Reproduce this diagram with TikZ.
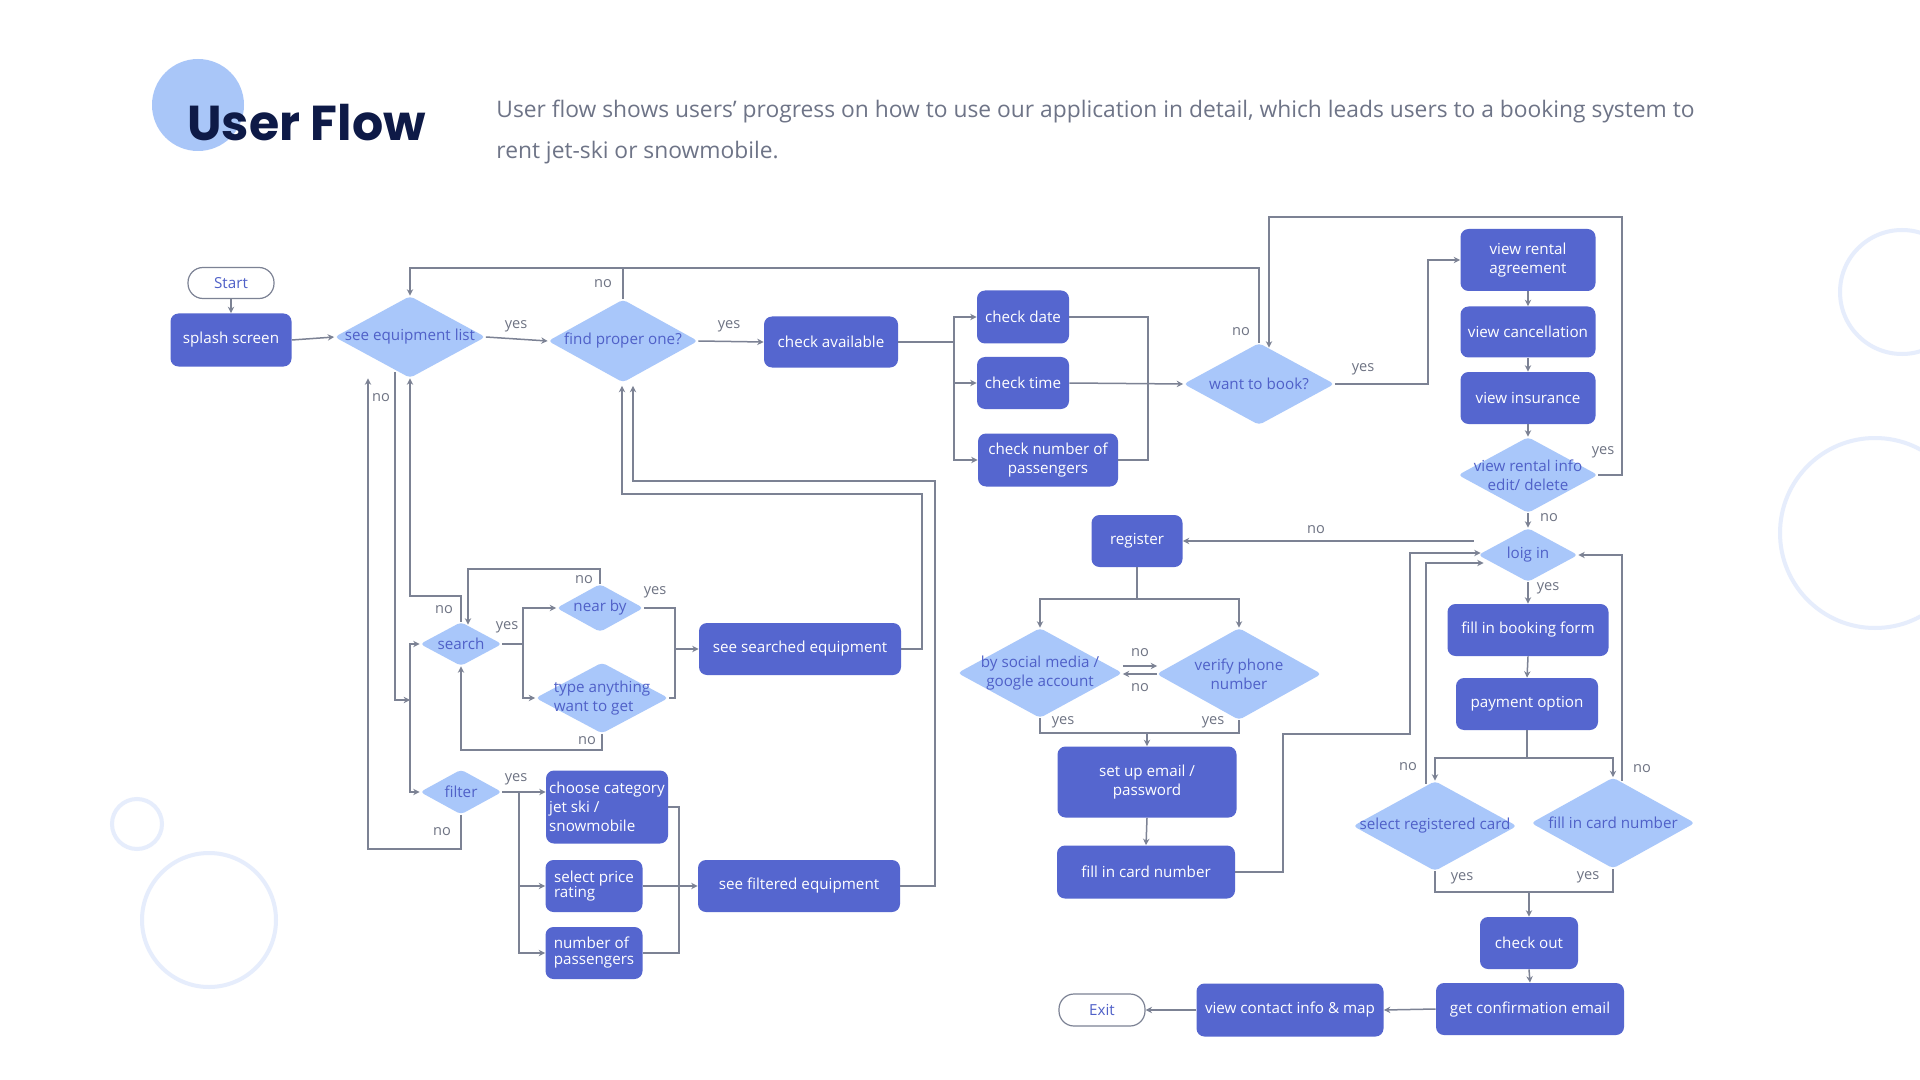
\documentclass[tikz,border=0pt]{standalone}
\usepackage{fontspec}
\setmainfont{Open Sans}
\newfontfamily\titlefont{Poppins}
\usetikzlibrary{shapes.geometric,arrows.meta,calc}
\definecolor{boxblue}{HTML}{5566CF}
\definecolor{dia}{HTML}{A9C7FA}
\definecolor{diatext}{HTML}{4F60C8}
\definecolor{linec}{HTML}{7C8294}
\definecolor{labc}{HTML}{6E7383}
\definecolor{navy}{HTML}{0E1A47}
\definecolor{subc}{HTML}{6E7487}
\definecolor{ring}{HTML}{E6EDFC}
\definecolor{titlecirc}{HTML}{A9C6F8}
\begin{document}
\begin{tikzpicture}[x=0.5pt,y=-0.5pt,
  box/.style 2 args={fill=boxblue, rounded corners=4pt, text=white,
    font=\fontsize{7.6}{9.4}\selectfont, align=center,
    minimum width=#1*0.5pt, minimum height=#2*0.5pt, inner sep=0pt},
  dmd/.style 2 args={diamond, fill=dia, rounded corners=2pt,
    minimum width=#1*0.5pt, minimum height=#2*0.5pt, inner sep=0pt},
  dlab/.style={text=diatext, font=\fontsize{7.6}{9.4}\selectfont, align=center, inner sep=0pt},
  term/.style 2 args={draw=linec, line width=0.6pt, fill=white, rounded corners=7.5pt,
    text=diatext, font=\fontsize{7.6}{9}\selectfont,
    minimum width=#1*0.5pt, minimum height=#2*0.5pt, inner sep=0pt},
  lab/.style={text=labc, font=\fontsize{7.3}{8}\selectfont, inner sep=0pt},
  ln/.style={draw=linec, line width=0.75pt},
  ar/.style={ln, -{Stealth[length=3.2pt,width=3.2pt]}},
  deco/.style={circle, draw=ring, line width=2pt, inner sep=0pt}
]
\useasboundingbox (0,0) rectangle (1920,1080);
\fill[white] (0,0) rectangle (1920,1080);

% decorative rings
\node[deco, minimum size=62pt] (r1) at (1902,292) {};
\node[deco, minimum size=95pt] (r2) at (1875,533) {};
\node[deco, minimum size=25pt] (r3) at (137,824) {};
\node[deco, minimum size=67pt] (r4) at (209,920) {};

% title
\node[circle, fill=titlecirc, minimum size=46pt, inner sep=0pt] (tc) at (198,105) {};
\node[anchor=base west, inner sep=0pt, text=navy, font=\titlefont\bfseries\fontsize{24.5}{27}\selectfont] (title) at (187,141) {User Flow};
\node[anchor=base west, inner sep=0pt, align=left, text=subc, font=\fontsize{11.4}{20.8}\selectfont] (sub) at (496,159)
 {User flow shows users’ progress on how to use our application in detail, which leads users to a booking system to\\rent jet-ski or snowmobile.};

% nodes
\node[term={86}{31}] (start) at (231,283) {Start};
\node[box={121}{53}] (splash) at (231,340) {splash screen};
\node[dmd={151}{82}, label={[dlab]center:see equipment list}] (seeq) at (410,337) {};
\node[dmd={150}{83}, label={[dlab]center:find proper one?}] (find) at (623,341) {};
\node[box={134}{51}] (avail) at (831,342) {check available};
\node[box={92}{53}] (date) at (1023,317) {check date};
\node[box={92}{52}] (time) at (1023,383) {check time};
\node[box={140}{53}] (npass) at (1048,460) {check number of\\passengers};
\node[dmd={151}{82}, label={[dlab]center:want to book?}] (book) at (1259,384) {};
\node[box={135}{62}] (agree) at (1528,260) {view rental\\agreement};
\node[box={135}{51}] (cancel) at (1528,332) {view cancellation};
\node[box={135}{52}] (insur) at (1528,398) {view insurance};
\node[dmd={140}{76}, label={[dlab]center:{view rental info\\edit/ delete}}] (rinfo) at (1528,475) {};
\node[dmd={100}{54}, label={[dlab]center:loig in}] (login) at (1528,555) {};
\node[box={161}{52}] (bform) at (1528,630) {fill in booking form};
\node[box={142}{52}] (payopt) at (1527,704) {payment option};
\node[dmd={164}{90}, label={[dlab]center:select registered card}] (selcard) at (1435,826) {};
\node[dmd={164}{91}, label={[dlab]center:fill in card number}] (fillcard) at (1613,823) {};
\node[box={98}{52}] (checkout) at (1529,943) {check out};
\node[box={188}{52}] (confirm) at (1530,1009) {get confirmation email};
\node[box={187}{53}] (contact) at (1290,1010) {view contact info \& map};
\node[term={86}{32}] (exit) at (1102,1010) {Exit};
\node[box={91}{52}] (register) at (1137,541) {register};
\node[dmd={165}{90}, label={[dlab]center:{by social media /\\google account}}] (social) at (1040,673) {};
\node[dmd={165}{92}, label={[dlab]center:{verify phone\\number}}] (verify) at (1239,674) {};
\node[box={179}{71}] (setup) at (1147,782) {set up email /\\password};
\node[box={178}{53}] (cardbox) at (1146,872) {fill in card number};
\node[dmd={82}{44}, label={[dlab]center:search}] (search) at (461,644) {};
\node[dmd={87}{48}, label={[dlab]center:near by}] (nearby) at (600,608) {};
\node[dmd={133}{71}, label={[dlab,align=left]center:{type anything\\want to get}}] (typeany) at (602,698) {};
\node[box={202}{52}] (seesearch) at (800,649) {see searched equipment};
\node[dmd={82}{45}, label={[dlab]center:filter}] (filter) at (461,792) {};
\node[box={122}{73}, align=left] (category) at (607,807) {choose category\\jet ski /\\snowmobile};
\node[box={97}{52}, align=left, font=\fontsize{7.6}{7.8}\selectfont] (price) at (594,886) {select price\\rating};
\node[box={97}{52}, align=left, font=\fontsize{7.6}{8}\selectfont] (passeng) at (594,953) {number of\\passengers};
\node[box={202}{52}] (seefilt) at (799,886) {see filtered equipment};

% connectors
\draw[ar] (start.south) -- (splash.north);
\draw[ar] (splash.east) -- (seeq.west);
\draw[ar] (seeq.east) -- (find.west);
\draw[ar] (find.east) -- (avail.west);
\draw[ln] (avail.east) -- (954,342);
\draw[ar] (954,342) |- (date.west);
\draw[ar] (954,342) |- (time.west);
\draw[ar] (954,342) |- (npass.west);
\draw[ln] (date.east) -| (1148,460) -- (npass.east);
\draw[ar] (time.east) -- (book.west);
\draw[ar] (book.north) -- (1259,268) -| (seeq.north);
\draw[ln] (find.north) -- (623,268);
\draw[ar] (book.east) -- (1428,384) |- (agree.west);
\draw[ar] (agree.south) -- (cancel.north);
\draw[ar] (cancel.south) -- (insur.north);
\draw[ar] (insur.south) -- (rinfo.north);
\draw[ar] (rinfo.east) -| (1622,217) -| ($(book.north)+(10,5)$);
\draw[ar] (rinfo.south) -- (login.north);
\draw[ar] ($(login.west)+(-4,-14)$) -- (register.east);
\draw[ar] (login.south) -- (bform.north);
\draw[ar] (bform.south) -- (payopt.north);
\draw[ln] (payopt.south) -- (1527,758);
\draw[ar] (1527,758) -| (selcard.north);
\draw[ar] (1527,758) -| (fillcard.north);
\draw[ar] ($(selcard.north)+(-9,3)$) |- ($(login.west)+(6,8)$);
\draw[ar] ($(fillcard.north)+(9,4)$) |- (login.east);
\draw[ar] (cardbox.east) -| (1283,734) -| (1410,553) -- ($(login.west)+(3,-2)$);
\draw[ln] (selcard.south) |- (1613,892) -- (fillcard.south);
\draw[ar] (1529,892) -- (checkout.north);
\draw[ar] (checkout.south) -- (confirm.north);
\draw[ar] (confirm.west) -- (contact.east);
\draw[ar] (contact.west) -- (exit.east);
\draw[ln] (register.south) -- (1137,599);
\draw[ar] (1137,599) -| (social.north);
\draw[ar] (1137,599) -| (verify.north);
\draw[ar] ($(social.east)+(0,-7)$) -- ($(verify.west)+(1,-8)$);
\draw[ar] ($(verify.west)+(1,0)$) -- ($(social.east)+(0,1)$);
\draw[ln] (social.south) -- (1040,733) -| (verify.south);
\draw[ar] (setup.north |- 0,733) -- (setup.north);
\draw[ar] (setup.south) -- (cardbox.north);
\draw[ar] ($(seeq.south)+(-15,-6)$) -- (395,700) -- (410,700);
\draw[ar] (410,700) |- (search.west);
\draw[ar] (410,700) |- (filter.west);
\draw[ar] (filter.south) -- (461,849) -| ($(seeq.south)+(-42,0)$);
\draw[ar] (search.north) -- (461,596) -| (seeq.south);
\draw[ar] (nearby.north) -- (600,569) -| ($(search.north)+(7,3)$);
\draw[ln] (search.east) -- (523,644);
\draw[ar] (523,644) |- (nearby.west);
\draw[ar] (523,644) |- (typeany.west);
\draw[ln] (nearby.east) -| (675,698) -- (typeany.east);
\draw[ar] (675,649) -- (seesearch.west);
\draw[ar] (typeany.south) -- (602,750) -| (search.south);
\draw[ar] (seesearch.east) -| (922,494) -| ($(find.south)+(-1,3)$);
\draw[ar] (seefilt.east) -| (935,481) -| ($(find.south)+(10,3)$);
\draw[ar] (filter.east) -- (filter.east -| category.west);
\draw[ar] (519,792) |- (price.west);
\draw[ar] (519,792) |- (passeng.west);
\draw[ln] (category.east) -| (679,953) -- (passeng.east);
\draw[ar] (price.east) -- (seefilt.west);

% labels
\node[lab] (l1) at (516,326) {yes};
\node[lab] (l2) at (729,326) {yes};
\node[lab] (l3) at (603,284) {no};
\node[lab] (l4) at (1241,332) {no};
\node[lab] (l5) at (1363,369) {yes};
\node[lab] (l6) at (1603,452) {yes};
\node[lab] (l7) at (1549,518) {no};
\node[lab] (l8) at (1316,530) {no};
\node[lab] (l9) at (1548,588) {yes};
\node[lab] (l10) at (1408,767) {no};
\node[lab] (l11) at (1642,769) {no};
\node[lab] (l12) at (1462,878) {yes};
\node[lab] (l13) at (1588,877) {yes};
\node[lab] (l14) at (1140,653) {no};
\node[lab] (l15) at (1140,688) {no};
\node[lab] (l16) at (1063,722) {yes};
\node[lab] (l17) at (1213,722) {yes};
\node[lab] (l18) at (381,398) {no};
\node[lab] (l19) at (442,832) {no};
\node[lab] (l20) at (444,610) {no};
\node[lab] (l21) at (584,580) {no};
\node[lab] (l22) at (507,627) {yes};
\node[lab] (l23) at (655,592) {yes};
\node[lab] (l24) at (587,741) {no};
\node[lab] (l25) at (516,779) {yes};
\end{tikzpicture}
\end{document}
